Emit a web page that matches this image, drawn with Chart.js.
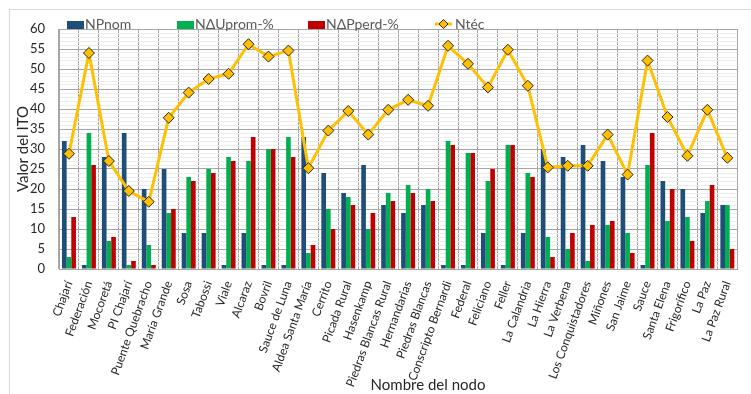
<!DOCTYPE html>
<html>
<head>
<meta charset="utf-8">
<script src="https://cdn.jsdelivr.net/npm/chart.js@4.4.1/dist/chart.umd.min.js"></script>
<style>
html, body { margin: 0; padding: 0; background: #fff; overflow: hidden; }
#wrap { position: relative; width: 751px; height: 394px; }
</style>
</head>
<body>
<div id="wrap"><canvas id="grafico" width="751" height="394"></canvas></div>
<script>
// Nodos y valores del ITO
const nodos = ['Chajarí', 'Federación', 'Mocoretá', 'PI Chajarí', 'Puente Quebracho', 'María Grande',
    'Sosa', 'Tabossi', 'Viale', 'Alcaraz', 'Bovril', 'Sauce de Luna', 'Aldea Santa María', 'Cerrito',
    'Picada Rural', 'Hasenkamp', 'Piedras Blancas Rural', 'Hernandarias', 'Piedras Blancas',
    'Conscripto Bernardi', 'Federal', 'Feliciano', 'Feller', 'La Calandria', 'La Hierra', 'La Verbena',
    'Los Conquistadores', 'Miñones', 'San Jaime', 'Sauce', 'Santa Elena', 'Frigorífico', 'La Paz', 'La Paz Rural'];

const npNom  = [32, 1, 28, 34, 20, 25, 9, 9, 1, 9, 1, 1, 33, 24, 19, 26, 16, 14, 16, 1, 1, 9, 1, 9, 30, 28, 31, 27, 23, 1, 22, 20, 14, 16];
const duProm = [3, 34, 7, 1, 6, 14, 23, 25, 28, 27, 30, 33, 4, 15, 18, 10, 19, 21, 20, 32, 29, 22, 31, 24, 8, 5, 2, 11, 9, 26, 12, 13, 17, 16];
const dpPerd = [13, 26, 8, 2, 1, 15, 22, 24, 27, 33, 30, 28, 6, 10, 16, 14, 17, 19, 17, 31, 29, 25, 31, 23, 3, 9, 11, 12, 4, 34, 20, 7, 21, 5];
const nTec   = [28.8, 54.0, 27.0, 19.5, 16.8, 37.8, 44.1, 47.5, 48.8, 56.2, 53.1, 54.6, 25.2, 34.6, 39.5, 33.6,
    39.8, 42.3, 40.8, 55.8, 51.3, 45.4, 54.8, 45.8, 25.4, 25.8, 25.8, 33.6, 23.6, 52.1, 38.0, 28.3, 39.8, 27.8];

const yMax = 60;
const yPaso = 5;

const fuente = 'Lato, "Open Sans", sans-serif';

// Marco exterior, leyenda y título del eje X
const decorado = {
    id: 'decorado',
    beforeDraw(chart) {
        const ctx = chart.ctx;
        ctx.save();
        ctx.fillStyle = '#fff';
        ctx.fillRect(0, 0, chart.width, chart.height);
        ctx.strokeStyle = '#d9d9d9';
        ctx.lineWidth = 1;
        ctx.strokeRect(9.5, 9.5, 900, 600);
        ctx.restore();
    },
    afterDraw(chart) {
        const ctx = chart.ctx;
        const posX = [67, 177, 308, 435];
        ctx.save();
        ctx.font = '14px ' + fuente;
        ctx.textBaseline = 'middle';
        ctx.fillStyle = '#595959';
        chart.data.datasets.forEach((ds, i) => {
            const x = posX[i];
            if (ds.type === 'line') {
                ctx.strokeStyle = ds.borderColor;
                ctx.lineWidth = 3;
                ctx.beginPath();
                ctx.moveTo(x, 24);
                ctx.lineTo(x + 17, 24);
                ctx.stroke();
                ctx.beginPath();
                ctx.moveTo(x + 8.5 - 4.5, 24);
                ctx.lineTo(x + 8.5, 19.5);
                ctx.lineTo(x + 13, 24);
                ctx.lineTo(x + 8.5, 28.5);
                ctx.closePath();
                ctx.fillStyle = ds.pointBackgroundColor;
                ctx.fill();
                ctx.strokeStyle = ds.pointBorderColor;
                ctx.lineWidth = 1;
                ctx.stroke();
                ctx.fillStyle = '#595959';
                ctx.fillText(ds.label, x + 20, 24);
            } else {
                ctx.fillStyle = ds.backgroundColor;
                ctx.fillRect(x, 21, 17, 8);
                ctx.fillStyle = '#595959';
                ctx.fillText(ds.label, x + 18, 24);
            }
        });
        ctx.fillStyle = '#262626';
        ctx.font = '15px ' + fuente;
        ctx.textAlign = 'center';
        ctx.fillText('Nombre del nodo', 428, 385);
        ctx.restore();
    }
};

new Chart(document.getElementById('grafico'), {
    data: {
        labels: nodos,
        datasets: [
            {
                type: 'bar', label: 'NPnom', data: npNom, backgroundColor: '#1F4E79',
                categoryPercentage: 0.7, barPercentage: 1.0, order: 1
            },
            {
                type: 'bar', label: 'NΔUprom-%', data: duProm, backgroundColor: '#00B050',
                categoryPercentage: 0.7, barPercentage: 1.0, order: 1
            },
            {
                type: 'bar', label: 'NΔPperd-%', data: dpPerd, backgroundColor: '#C00000',
                categoryPercentage: 0.7, barPercentage: 1.0, order: 1
            },
            {
                type: 'line', label: 'Ntéc', data: nTec, borderColor: '#FFC000', borderWidth: 3,
                pointStyle: 'rectRot', pointRadius: 5.5, pointBackgroundColor: '#FFC000',
                pointBorderColor: '#262626', pointBorderWidth: 1, tension: 0, order: 0
            }
        ]
    },
    options: {
        responsive: false,
        animation: false,
        devicePixelRatio: 1,
        layout: { padding: { left: 10, right: 8, top: 29, bottom: 0 } },
        plugins: {
            legend: { display: false },
            tooltip: { enabled: false }
        },
        scales: {
            x: {
                offset: true,
                grid: { color: '#a6a6a6', drawTicks: false, offset: true },
                border: { color: '#a6a6a6' },
                ticks: {
                    autoSkip: false, minRotation: 70, maxRotation: 70, padding: 10,
                    color: '#262626', font: { family: fuente, size: 12 }
                },
                afterFit(scale) { scale.height = 125; }
            },
            y: {
                min: 0, max: yMax,
                grid: {
                    drawTicks: false,
                    color: c => (c.tick.value % yPaso === 0 ? '#a6a6a6' : '#ececec')
                },
                border: { color: '#a6a6a6' },
                ticks: {
                    stepSize: 1, autoSkip: false, padding: 14, color: '#262626',
                    font: { family: fuente, size: 13 },
                    callback: v => (v % yPaso === 0 ? v : '')
                },
                title: {
                    display: true, text: 'Valor del ITO', color: '#262626',
                    font: { family: fuente, size: 15 }, padding: { top: 4, bottom: 0 }
                },
                afterFit(scale) { scale.width = 49; }
            }
        }
    },
    plugins: [decorado]
});
</script>
</body>
</html>
